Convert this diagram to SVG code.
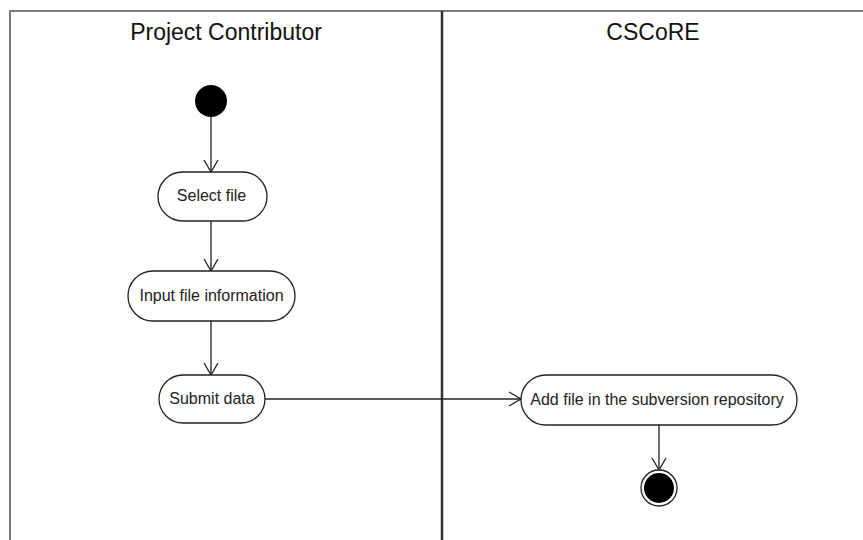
<svg xmlns="http://www.w3.org/2000/svg" width="863" height="540" viewBox="0 0 863 540">
  <defs>
    <marker id="open" viewBox="0 0 14 16" refX="13" refY="8" markerWidth="14" markerHeight="16" markerUnits="userSpaceOnUse" orient="auto">
      <path d="M1,1 L13,8 L1,15" fill="none" stroke="#222" stroke-width="1.3"/>
    </marker>
  </defs>
  <style>
    .lane { font-family: "Liberation Sans", Arial, sans-serif; font-size: 23px; fill: #111; text-anchor: middle; }
    .act rect { fill: #fff; stroke: #222; stroke-width: 1.3; }
    .act text { font-family: "Liberation Sans", Arial, sans-serif; font-size: 16px; fill: #222; text-anchor: middle; dominant-baseline: central; }
    .edge { fill: none; stroke: #222; stroke-width: 1.3; marker-end: url(#open); }
  </style>
  <rect width="863" height="540" fill="#fff"/>

  <!-- swimlane frame -->
  <g id="lanes">
    <path d="M10,541 V11 H863" fill="none" stroke="#7a7a7a" stroke-width="2"/>
    <line x1="442" y1="11" x2="442" y2="541" stroke="#333" stroke-width="2.5"/>
    <text class="lane" x="226" y="40">Project Contributor</text>
    <text class="lane" x="653" y="40">CSCoRE</text>
  </g>

  <!-- connectors -->
  <g id="connectors">
    <line class="edge" x1="211" y1="117" x2="211" y2="172"/>
    <line class="edge" x1="211" y1="221" x2="211" y2="271"/>
    <line class="edge" x1="211" y1="321" x2="211" y2="375"/>
    <line class="edge" x1="265" y1="399" x2="521" y2="399"/>
    <line class="edge" x1="659" y1="425" x2="659" y2="470"/>
  </g>

  <g id="start">
    <circle cx="211" cy="101" r="16" fill="#000"/>
  </g>

  <g id="select-file" class="act">
    <rect x="158" y="172" width="109" height="49" rx="24.5"/>
    <text x="211.5" y="195.5">Select file</text>
  </g>

  <g id="input-file-information" class="act">
    <rect x="128" y="271" width="167" height="50" rx="25"/>
    <text x="211.5" y="295.5">Input file information</text>
  </g>

  <g id="submit-data" class="act">
    <rect x="159" y="375" width="106" height="48" rx="24"/>
    <text x="212" y="398.5">Submit data</text>
  </g>

  <g id="add-file" class="act">
    <rect x="521" y="375" width="276" height="50" rx="25"/>
    <text x="657" y="399.5">Add file in the subversion repository</text>
  </g>

  <g id="end">
    <circle cx="659" cy="488" r="18" fill="#fff" stroke="#222" stroke-width="1.3"/>
    <circle cx="659" cy="488" r="15" fill="#000"/>
  </g>
</svg>
